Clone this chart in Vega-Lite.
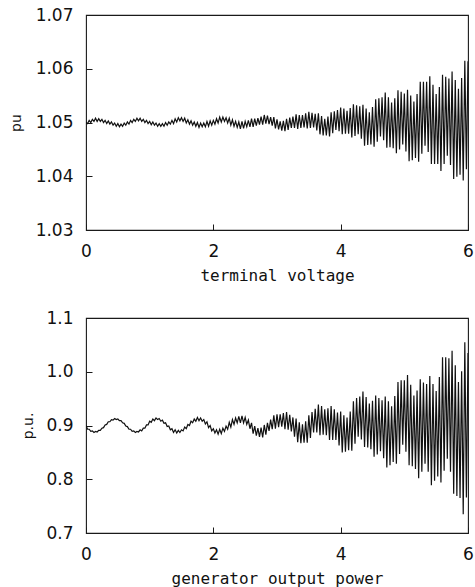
{
  "$schema": "https://vega.github.io/schema/vega-lite/v6.json",
  "background": "white",
  "padding": {"left": 8, "top": 5, "right": 1, "bottom": 0},
  "spacing": 24,
  "config": {
    "font": "DejaVu Sans",
    "view": {"stroke": "#1a1a1a", "strokeWidth": 1.1},
    "axis": {
      "domain": false,
      "grid": false,
      "ticks": true,
      "tickSize": -6,
      "tickColor": "#1a1a1a",
      "tickWidth": 1,
      "labelFont": "DejaVu Sans",
      "labelFontSize": 17,
      "labelColor": "#111",
      "labelPadding": 19,
      "titleFont": "DejaVu Sans Mono",
      "titleFontWeight": "normal",
      "titleColor": "#111"
    },
    "axisX": {"labelFlush": false, "titleFontSize": 16, "titlePadding": 8},
    "axisY": {"titleFontSize": 14, "titleFont": "DejaVu Sans"}
  },
  "datasets": {
    "d": [
      {"t":0,"v":1.05,"p":0.9},{"t":0.025,"v":1.0498,"p":0.893},{"t":0.05,"v":1.0504,"p":0.893},{"t":0.075,"v":1.05,"p":0.889},{"t":0.1,"v":1.0506,"p":0.89},{"t":0.125,"v":1.0502,"p":0.887},{"t":0.15,"v":1.0508,"p":0.889},{"t":0.175,"v":1.0502,"p":0.888},{"t":0.2,"v":1.0507,"p":0.891},{"t":0.225,"v":1.0502,"p":0.891},
      {"t":0.25,"v":1.0506,"p":0.895},{"t":0.275,"v":1.05,"p":0.896},{"t":0.3,"v":1.0504,"p":0.901},{"t":0.325,"v":1.0498,"p":0.902},{"t":0.35,"v":1.0503,"p":0.907},{"t":0.375,"v":1.0497,"p":0.907},{"t":0.4,"v":1.0501,"p":0.911},{"t":0.425,"v":1.0495,"p":0.91},{"t":0.45,"v":1.0499,"p":0.913},{"t":0.475,"v":1.0493,"p":0.911},
      {"t":0.5,"v":1.0498,"p":0.912},{"t":0.525,"v":1.0492,"p":0.909},{"t":0.55,"v":1.0497,"p":0.909},{"t":0.575,"v":1.0493,"p":0.905},{"t":0.6,"v":1.0499,"p":0.904},{"t":0.625,"v":1.0495,"p":0.899},{"t":0.65,"v":1.0501,"p":0.898},{"t":0.675,"v":1.0497,"p":0.893},{"t":0.7,"v":1.0504,"p":0.893},{"t":0.725,"v":1.05,"p":0.889},
      {"t":0.75,"v":1.0506,"p":0.89},{"t":0.775,"v":1.0502,"p":0.887},{"t":0.8,"v":1.0508,"p":0.889},{"t":0.825,"v":1.0503,"p":0.888},{"t":0.85,"v":1.0508,"p":0.892},{"t":0.875,"v":1.0502,"p":0.89},{"t":0.9,"v":1.0506,"p":0.895},{"t":0.925,"v":1.05,"p":0.895},{"t":0.95,"v":1.0504,"p":0.901},{"t":0.975,"v":1.0498,"p":0.901},
      {"t":1.0,"v":1.0502,"p":0.908},{"t":1.025,"v":1.0496,"p":0.906},{"t":1.05,"v":1.0501,"p":0.912},{"t":1.075,"v":1.0495,"p":0.909},{"t":1.1,"v":1.0499,"p":0.914},{"t":1.125,"v":1.0493,"p":0.911},{"t":1.15,"v":1.0498,"p":0.913},{"t":1.175,"v":1.0493,"p":0.908},{"t":1.2,"v":1.0498,"p":0.91},{"t":1.225,"v":1.0493,"p":0.904},
      {"t":1.25,"v":1.05,"p":0.905},{"t":1.275,"v":1.0495,"p":0.898},{"t":1.3,"v":1.0501,"p":0.899},{"t":1.325,"v":1.0497,"p":0.892},{"t":1.35,"v":1.0504,"p":0.894},{"t":1.375,"v":1.0498,"p":0.887},{"t":1.4,"v":1.0507,"p":0.892},{"t":1.425,"v":1.0501,"p":0.886},{"t":1.45,"v":1.0509,"p":0.891},{"t":1.475,"v":1.0503,"p":0.887},
      {"t":1.5,"v":1.0509,"p":0.892},{"t":1.525,"v":1.0502,"p":0.89},{"t":1.55,"v":1.0508,"p":0.897},{"t":1.575,"v":1.0499,"p":0.894},{"t":1.6,"v":1.0505,"p":0.902},{"t":1.625,"v":1.0497,"p":0.9},{"t":1.65,"v":1.0503,"p":0.908},{"t":1.675,"v":1.0495,"p":0.905},{"t":1.7,"v":1.0501,"p":0.912},{"t":1.725,"v":1.0493,"p":0.908},
      {"t":1.75,"v":1.05,"p":0.915},{"t":1.775,"v":1.0491,"p":0.909},{"t":1.8,"v":1.0499,"p":0.914},{"t":1.825,"v":1.0492,"p":0.908},{"t":1.85,"v":1.0499,"p":0.911},{"t":1.875,"v":1.0492,"p":0.903},{"t":1.9,"v":1.0502,"p":0.907},{"t":1.925,"v":1.0493,"p":0.896},{"t":1.95,"v":1.0503,"p":0.9},{"t":1.975,"v":1.0495,"p":0.89},
      {"t":2.0,"v":1.0504,"p":0.894},{"t":2.025,"v":1.0497,"p":0.886},{"t":2.05,"v":1.0507,"p":0.892},{"t":2.075,"v":1.0499,"p":0.884},{"t":2.1,"v":1.051,"p":0.893},{"t":2.125,"v":1.0501,"p":0.885},{"t":2.15,"v":1.051,"p":0.895},{"t":2.175,"v":1.0502,"p":0.889},{"t":2.2,"v":1.0509,"p":0.899},{"t":2.225,"v":1.0499,"p":0.893},
      {"t":2.25,"v":1.0508,"p":0.906},{"t":2.275,"v":1.0495,"p":0.897},{"t":2.3,"v":1.0505,"p":0.911},{"t":2.325,"v":1.0493,"p":0.902},{"t":2.35,"v":1.0502,"p":0.914},{"t":2.375,"v":1.0491,"p":0.905},{"t":2.4,"v":1.0501,"p":0.917},{"t":2.425,"v":1.0488,"p":0.905},{"t":2.45,"v":1.0502,"p":0.918},{"t":2.475,"v":1.0489,"p":0.905},
      {"t":2.5,"v":1.0502,"p":0.915},{"t":2.525,"v":1.0492,"p":0.902},{"t":2.55,"v":1.0504,"p":0.91},{"t":2.575,"v":1.0492,"p":0.894},{"t":2.6,"v":1.0507,"p":0.905},{"t":2.625,"v":1.0492,"p":0.885},{"t":2.65,"v":1.0507,"p":0.899},{"t":2.675,"v":1.0494,"p":0.881},{"t":2.7,"v":1.0508,"p":0.895},{"t":2.725,"v":1.0496,"p":0.879},
      {"t":2.75,"v":1.0511,"p":0.896},{"t":2.775,"v":1.0496,"p":0.878},{"t":2.8,"v":1.0514,"p":0.901},{"t":2.825,"v":1.0498,"p":0.883},{"t":2.85,"v":1.0513,"p":0.905},{"t":2.875,"v":1.0497,"p":0.89},{"t":2.9,"v":1.051,"p":0.911},{"t":2.925,"v":1.0494,"p":0.893},{"t":2.95,"v":1.051,"p":0.919},{"t":2.975,"v":1.0489,"p":0.894},
      {"t":3.0,"v":1.0506,"p":0.921},{"t":3.025,"v":1.0487,"p":0.897},{"t":3.05,"v":1.0502,"p":0.921},{"t":3.075,"v":1.0485,"p":0.898},{"t":3.1,"v":1.0503,"p":0.923},{"t":3.125,"v":1.0484,"p":0.893},{"t":3.15,"v":1.0507,"p":0.925},{"t":3.175,"v":1.0486,"p":0.892},{"t":3.2,"v":1.0509,"p":0.92},{"t":3.225,"v":1.049,"p":0.889},
      {"t":3.25,"v":1.0511,"p":0.915},{"t":3.275,"v":1.049,"p":0.879},{"t":3.3,"v":1.0515,"p":0.913},{"t":3.325,"v":1.0488,"p":0.869},{"t":3.35,"v":1.0514,"p":0.906},{"t":3.375,"v":1.049,"p":0.867},{"t":3.4,"v":1.0514,"p":0.902},{"t":3.425,"v":1.0491,"p":0.868},{"t":3.45,"v":1.0517,"p":0.908},{"t":3.475,"v":1.0489,"p":0.868},
      {"t":3.5,"v":1.052,"p":0.919},{"t":3.525,"v":1.049,"p":0.877},{"t":3.55,"v":1.0518,"p":0.925},{"t":3.575,"v":1.0491,"p":0.887},{"t":3.6,"v":1.0516,"p":0.931},{"t":3.625,"v":1.0485,"p":0.887},{"t":3.65,"v":1.0517,"p":0.939},{"t":3.675,"v":1.0478,"p":0.882},{"t":3.7,"v":1.0512,"p":0.936},{"t":3.725,"v":1.0476,"p":0.883},
      {"t":3.75,"v":1.0507,"p":0.93},{"t":3.775,"v":1.0476,"p":0.882},{"t":3.8,"v":1.0511,"p":0.932},{"t":3.825,"v":1.0474,"p":0.873},{"t":3.85,"v":1.0519,"p":0.936},{"t":3.875,"v":1.048,"p":0.873},{"t":3.9,"v":1.0521,"p":0.93},{"t":3.925,"v":1.0486,"p":0.873},{"t":3.95,"v":1.0523,"p":0.924},{"t":3.975,"v":1.0484,"p":0.863},
      {"t":4.0,"v":1.0528,"p":0.926},{"t":4.025,"v":1.0478,"p":0.85},{"t":4.05,"v":1.0526,"p":0.919},{"t":4.075,"v":1.0479,"p":0.851},{"t":4.1,"v":1.0522,"p":0.915},{"t":4.125,"v":1.0479,"p":0.854},{"t":4.15,"v":1.0527,"p":0.926},{"t":4.175,"v":1.0472,"p":0.853},{"t":4.2,"v":1.0534,"p":0.945},{"t":4.225,"v":1.0475,"p":0.866},
      {"t":4.25,"v":1.0532,"p":0.951},{"t":4.275,"v":1.0478,"p":0.879},{"t":4.3,"v":1.053,"p":0.954},{"t":4.325,"v":1.047,"p":0.874},{"t":4.35,"v":1.0533,"p":0.963},{"t":4.375,"v":1.0457,"p":0.86},{"t":4.4,"v":1.0526,"p":0.953},{"t":4.425,"v":1.0458,"p":0.859},{"t":4.45,"v":1.0519,"p":0.941},{"t":4.475,"v":1.0459,"p":0.856},
      {"t":4.5,"v":1.0529,"p":0.946},{"t":4.525,"v":1.0455,"p":0.842},{"t":4.55,"v":1.0543,"p":0.956},{"t":4.575,"v":1.0464,"p":0.846},{"t":4.6,"v":1.0545,"p":0.951},{"t":4.625,"v":1.0474,"p":0.852},{"t":4.65,"v":1.0547,"p":0.947},{"t":4.675,"v":1.0467,"p":0.839},{"t":4.7,"v":1.0556,"p":0.954},{"t":4.725,"v":1.0453,"p":0.822},
      {"t":4.75,"v":1.0547,"p":0.945},{"t":4.775,"v":1.0454,"p":0.826},{"t":4.8,"v":1.0537,"p":0.936},{"t":4.825,"v":1.0452,"p":0.832},{"t":4.85,"v":1.0545,"p":0.955},{"t":4.875,"v":1.0443,"p":0.829},{"t":4.9,"v":1.056,"p":0.981},{"t":4.925,"v":1.045,"p":0.847},{"t":4.95,"v":1.0557,"p":0.984},{"t":4.975,"v":1.0459,"p":0.864},
      {"t":5.0,"v":1.0554,"p":0.984},{"t":5.025,"v":1.0446,"p":0.851},{"t":5.05,"v":1.0561,"p":0.994},{"t":5.075,"v":1.0428,"p":0.826},{"t":5.1,"v":1.055,"p":0.976},{"t":5.125,"v":1.043,"p":0.824},{"t":5.15,"v":1.0539,"p":0.956},{"t":5.175,"v":1.0434,"p":0.819},{"t":5.2,"v":1.0553,"p":0.965},{"t":5.225,"v":1.0427,"p":0.802},
      {"t":5.25,"v":1.0576,"p":0.986},{"t":5.275,"v":1.0442,"p":0.814},{"t":5.3,"v":1.0576,"p":0.98},{"t":5.325,"v":1.0457,"p":0.829},{"t":5.35,"v":1.0576,"p":0.977},{"t":5.375,"v":1.0445,"p":0.814},{"t":5.4,"v":1.0586,"p":0.992},{"t":5.425,"v":1.0423,"p":0.789},{"t":5.45,"v":1.057,"p":0.977},{"t":5.475,"v":1.0423,"p":0.797},
      {"t":5.5,"v":1.0553,"p":0.964},{"t":5.525,"v":1.0423,"p":0.805},{"t":5.55,"v":1.0566,"p":0.99},{"t":5.575,"v":1.041,"p":0.794},{"t":5.6,"v":1.0589,"p":1.027},{"t":5.625,"v":1.0423,"p":0.816},{"t":5.65,"v":1.0585,"p":1.027},{"t":5.675,"v":1.0438,"p":0.838},{"t":5.7,"v":1.0582,"p":1.025},{"t":5.725,"v":1.0421,"p":0.814},
      {"t":5.75,"v":1.0595,"p":1.039},{"t":5.775,"v":1.0395,"p":0.773},{"t":5.8,"v":1.0579,"p":1.012},{"t":5.825,"v":1.0399,"p":0.769},{"t":5.85,"v":1.0563,"p":0.981},{"t":5.875,"v":1.0403,"p":0.765},{"t":5.9,"v":1.0583,"p":1.001},{"t":5.925,"v":1.0392,"p":0.735},{"t":5.95,"v":1.0615,"p":1.055},{"t":5.975,"v":1.0413,"p":0.766},
      {"t":6.0,"v":1.0614,"p":1.035}
    ]
  },
  "vconcat": [
    {
      "data": {"name": "d"},
      "width": 382,
      "height": 215,
      "mark": {"type": "line", "color": "#111", "strokeWidth": 1.2, "clip": true},
      "encoding": {
        "x": {"field": "t", "type": "quantitative", "scale": {"domain": [0, 6], "nice": false},
              "axis": {"values": [0, 2, 4, 6], "title": "terminal voltage"}},
        "y": {"field": "v", "type": "quantitative", "scale": {"domain": [1.03, 1.07], "nice": false, "zero": false},
              "axis": {"values": [1.03, 1.04, 1.05, 1.06, 1.07], "format": ".2f", "title": "pu", "titlePadding": 12}}
      }
    },
    {
      "data": {"name": "d"},
      "width": 382,
      "height": 215,
      "mark": {"type": "line", "color": "#111", "strokeWidth": 1.2, "clip": true},
      "encoding": {
        "x": {"field": "t", "type": "quantitative", "scale": {"domain": [0, 6], "nice": false},
              "axis": {"values": [0, 2, 4, 6], "title": "generator output power"}},
        "y": {"field": "p", "type": "quantitative", "scale": {"domain": [0.7, 1.1], "nice": false, "zero": false},
              "axis": {"values": [0.7, 0.8, 0.9, 1.0, 1.1], "format": ".1f", "title": "p.u.", "titlePadding": 10}}
      }
    }
  ]
}
